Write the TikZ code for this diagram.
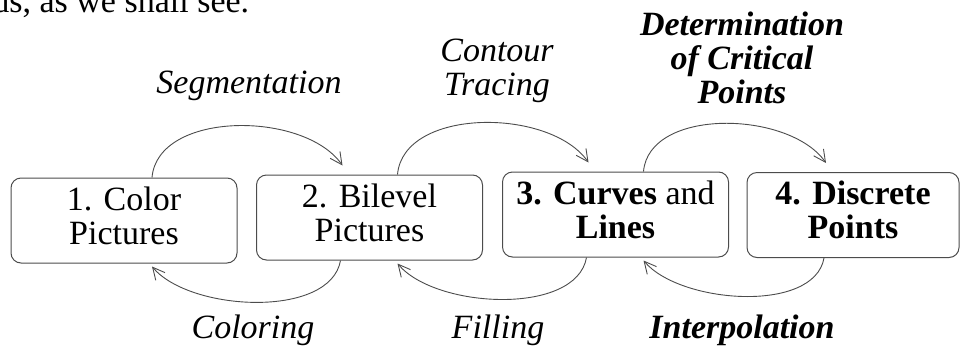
\documentclass[tikz,border=0pt]{standalone}
\usepackage{fontspec}
\setmainfont{Liberation Serif}
\usetikzlibrary{arrows.meta}

\newcommand\figfont{\fontsize{17}{17}\selectfont}

\tikzset{
    stage/.style={draw=black!70, line width=0.5pt, rounded corners=5pt,
        minimum width=113pt, minimum height=42.5pt, align=center,
        inner sep=2pt, text depth=5pt, font=\figfont},
    flow/.style={draw=black!70, line width=0.45pt,
        -{Straight Barb[length=6pt,width=6pt]}},
    lbl/.style={align=center, font=\figfont\itshape},
    keylbl/.style={align=center, font=\figfont\bfseries\itshape},
}

\begin{document}
\begin{tikzpicture}[x=0.5pt,y=0.5pt]
    \useasboundingbox (0,0) rectangle (961,360);

    % Zeile aus dem Fliesstext
    \node[anchor=base west, inner sep=0pt, font=\figfont] (txt) at (-8,348) {ds, as we shall see.};

    % Die vier Stufen
    \node[stage] (pic) at (124,139.5) {1. Color\\Pictures};
    \node[stage] (bil) at (369.5,142.5) {2. Bilevel\\Pictures};
    \node[stage] (crv) at (615.5,145.5) {\textbf{3. Curves} and\\\textbf{Lines}};
    \node[stage, minimum width=106pt] (pts) at (853,145) {\textbf{4. Discrete}\\\textbf{Points}};

    % Beschriftung oben
    \node[lbl, anchor=base] (seg) at (249,267) {Segmentation};
    \node[lbl] (trace) at (497,289.5) {Contour\\Tracing};
    \node[keylbl] (crit) at (742,302.6) {Determination\\of Critical\\Points};

    % Beschriftung unten
    \node[lbl, anchor=base] (col) at (253,22) {Coloring};
    \node[lbl, anchor=base] (fill) at (498,22) {Filling};
    \node[keylbl, anchor=base] (interp) at (742,22) {Interpolation};

    % Boegen nach rechts (oben)
    \foreach \a/\b in {pic/bil, bil/crv, crv/pts} {
        \draw[flow] ([xshift=14pt]\a.north) to[out=85,in=125,looseness=0.9]
            ([xshift=-13.5pt,yshift=4.5pt]\b.north);
    }

    % Boegen zurueck (unten)
    \foreach \a/\b in {bil/pic, crv/bil, pts/crv} {
        \draw[flow] ([xshift=-14.5pt]\a.south) to[out=-100,in=-50,looseness=0.8]
            ([xshift=14pt,yshift=-1.5pt]\b.south);
    }
\end{tikzpicture}
\end{document}
